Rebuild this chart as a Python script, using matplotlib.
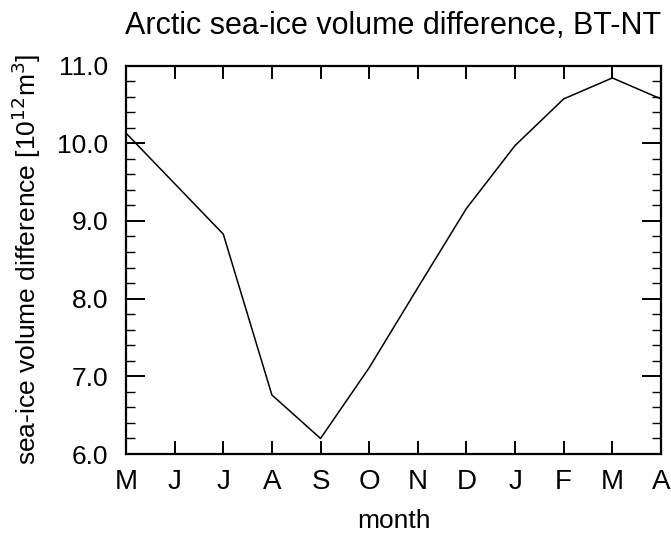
import matplotlib
matplotlib.use("Agg")
import matplotlib.pyplot as plt
from matplotlib.ticker import MultipleLocator

plt.rcParams['font.family'] = ['Liberation Sans', 'DejaVu Sans']

months = ['M', 'J', 'J', 'A', 'S', 'O', 'N', 'D', 'J', 'F', 'M', 'A']
volume_diff = [10.13, 9.48, 8.83, 6.76, 6.20, 7.11, 8.14, 9.16, 9.97, 10.57, 10.84, 10.57]

fig = plt.figure(figsize=(6.71, 5.41), dpi=100)
ax = fig.add_axes([0.1878, 0.1608, 0.7972, 0.7181])

x = list(range(len(months)))
ax.plot(x, volume_diff, color='black', linewidth=1.1)

ax.set_xlim(0, len(months) - 1)
ax.set_ylim(6.0, 11.0)
ax.set_xticks(x)
ax.set_xticklabels(months)
ax.yaxis.set_major_locator(MultipleLocator(1.0))
ax.yaxis.set_minor_locator(MultipleLocator(0.2))
ax.set_yticklabels(['%.1f' % v for v in ax.get_yticks()])

for s in ax.spines.values():
    s.set_linewidth(1.6)

ax.tick_params(axis='x', which='major', direction='in', length=9.7, width=1.4,
               top=True, bottom=True, labelsize=20, pad=11)
ax.tick_params(axis='y', which='major', direction='in', length=13.5, width=1.4,
               left=True, right=True, labelsize=19, pad=13)
ax.tick_params(axis='y', which='minor', direction='in', length=6.8, width=1.0,
               left=True, right=True)

ax.set_xlabel('month', fontsize=19, labelpad=10)
ax.set_ylabel(r'sea-ice volume difference [10$^{12}$m$^{3}$]', fontsize=19, labelpad=10)
ax.set_title('Arctic sea-ice volume difference, BT-NT', fontsize=22, pad=23)

fig.savefig('out.png', dpi=100)
